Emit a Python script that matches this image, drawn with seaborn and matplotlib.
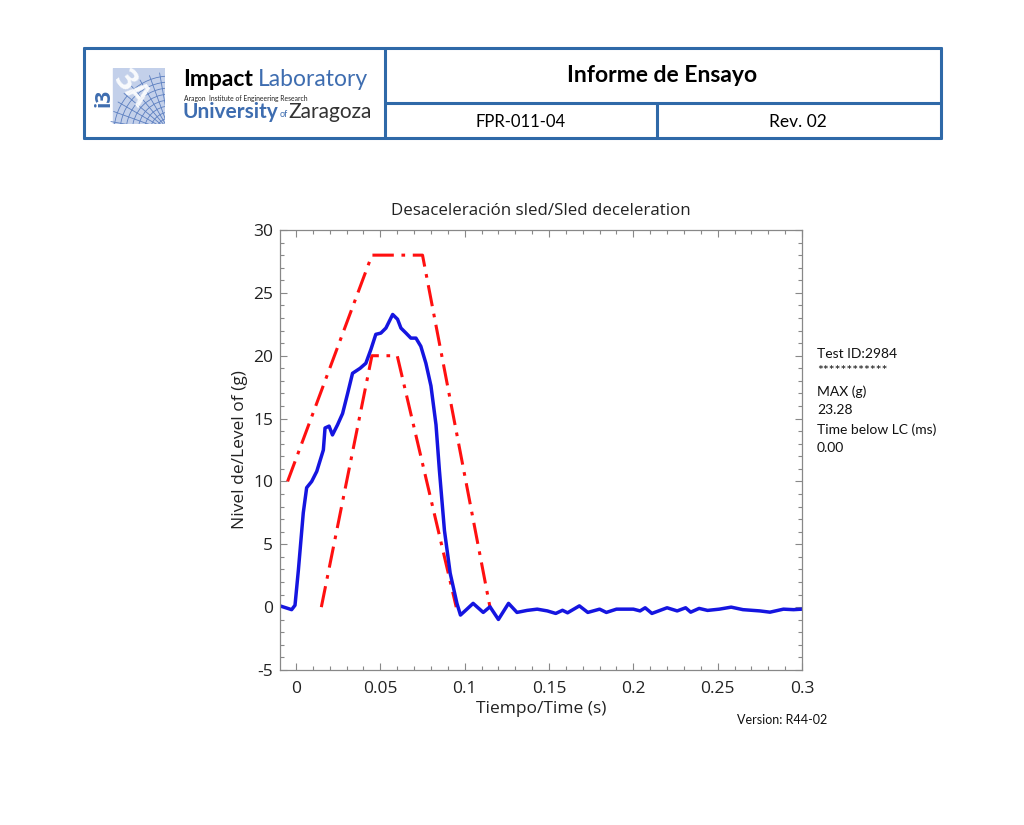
import numpy as np
import pandas as pd
import matplotlib
matplotlib.use("Agg")
import matplotlib.pyplot as plt
from matplotlib.patches import Rectangle, Circle
from matplotlib.lines import Line2D
import seaborn as sns

# ---------------- data ----------------
time_s = [-0.0095, -0.0026, -0.0006, 0.0014, 0.0043, 0.0063, 0.0093, 0.0123, 0.0162,
          0.0172, 0.0196, 0.0216, 0.0246, 0.0276, 0.0306, 0.0335, 0.038, 0.0414,
          0.0444, 0.0473, 0.0503, 0.0533, 0.0573, 0.0602, 0.0622, 0.0652, 0.0681,
          0.0711, 0.074, 0.077, 0.080, 0.083, 0.085, 0.088, 0.0914, 0.0954, 0.0975,
          0.101, 0.105, 0.111, 0.115, 0.120, 0.126, 0.131, 0.137, 0.143, 0.149,
          0.154, 0.158, 0.161, 0.168, 0.173, 0.180, 0.184, 0.190, 0.200, 0.204,
          0.207, 0.211, 0.220, 0.226, 0.231, 0.234, 0.239, 0.244, 0.251, 0.258,
          0.265, 0.275, 0.281, 0.289, 0.295, 0.300]
decel_g = [0.1, -0.2, 0.15, 2.95, 7.5, 9.5, 10.0, 10.8, 12.5,
           14.25, 14.4, 13.7, 14.5, 15.4, 17.0, 18.6, 19.0, 19.4,
           20.5, 21.7, 21.8, 22.2, 23.28, 22.9, 22.2, 21.8, 21.4,
           21.4, 20.75, 19.4, 17.6, 14.5, 10.9, 6.1, 2.7, 0.3, -0.63,
           -0.2, 0.3, -0.42, 0.03, -0.98, 0.3, -0.42, -0.26, -0.16, -0.3,
           -0.5, -0.25, -0.45, 0.1, -0.42, -0.16, -0.42, -0.16, -0.16, -0.3,
           -0.05, -0.5, -0.05, -0.3, -0.05, -0.4, -0.1, -0.26, -0.16, 0.0,
           -0.2, -0.3, -0.4, -0.16, -0.2, -0.16]

upper_t = [-0.005, 0.045, 0.075, 0.115]
upper_g = [10, 28, 28, 0]
lower_t = [0.015, 0.045, 0.060, 0.095]
lower_g = [0, 20, 20, 0]

x_ticks = [0, 0.05, 0.1, 0.15, 0.2, 0.25, 0.3]
x_tick_labels = ["0", "0.05", "0.1", "0.15", "0.2", "0.25", "0.3"]
y_ticks = [-5, 0, 5, 10, 15, 20, 25, 30]

info_lines = ["Test ID:2984", "************", "MAX (g)", "23.28",
              "Time below LC (ms)", "0.00"]

# ---------------- figure ----------------
sns.set_theme(style="ticks")
plt.rcParams['font.family'] = ['Open Sans', 'DejaVu Sans']
plt.rcParams['axes.unicode_minus'] = False

W, H = 1024, 825
fig = plt.figure(figsize=(W / 100, H / 100), dpi=100)
fig.patch.set_facecolor("white")
renderer = fig.canvas.get_renderer()

def fx(px):
    return px / W

def fy(py):
    return 1 - py / H

def right_px(t):
    bb = t.get_window_extent(renderer=renderer)
    return bb.x1

# ---------- header table ----------
hdr_col = "#2F69A8"
lw_h = 2.2
def hline(x0, x1, y):
    fig.add_artist(Line2D([fx(x0), fx(x1)], [fy(y), fy(y)], color=hdr_col, lw=lw_h,
                          transform=fig.transFigure))
def vline(x, y0, y1):
    fig.add_artist(Line2D([fx(x), fx(x)], [fy(y0), fy(y1)], color=hdr_col, lw=lw_h,
                          transform=fig.transFigure))

hline(84, 941, 48)
hline(84, 941, 138)
vline(84, 48, 138)
vline(941, 48, 138)
vline(385, 48, 138)
hline(385, 941, 103)
vline(657, 103, 138)

lf = ["Lato", "DejaVu Sans"]
fig.text(fx(662), fy(76), "Informe de Ensayo", ha="center", va="center",
         fontsize=16.5, fontweight="bold", color="black", family=lf)
fig.text(fx(521), fy(122), "FPR-011-04", ha="center", va="center",
         fontsize=12, color="black", family=lf)
fig.text(fx(798), fy(122), "Rev. 02", ha="center", va="center",
         fontsize=12.5, color="black", family=lf)

# ---------- logo ----------
lax = fig.add_axes([fx(95), fy(124), fx(165) - fx(95), fy(68) - fy(124)])
lax.set_xlim(0, 70)
lax.set_ylim(0, 56)
lax.axis("off")
lax.add_patch(Rectangle((18, 0), 52, 56, color="#C3D0EA", zorder=1))
for r in range(8, 60, 6):
    lax.add_patch(Circle((75, -8), r, fill=False, ec="#5C7FC0", lw=0.6, zorder=2))
for ang in np.linspace(100, 180, 9):
    a = np.deg2rad(ang)
    lax.plot([75, 75 + 60 * np.cos(a)], [-8, -8 + 60 * np.sin(a)], color="#5C7FC0",
             lw=0.6, zorder=2)
lax.text(9, 26, "i3", rotation=90, ha="center", va="center", fontsize=15,
         fontweight="bold", color="#3E6DB0", zorder=3)
lax.text(36, 34, "3A", rotation=-50, ha="center", va="center", fontsize=22,
         fontweight="bold", color="white", zorder=3, alpha=0.9)

t1 = fig.text(fx(183), fy(80), "Impact", ha="left", va="center", fontsize=16.5,
              fontweight="bold", color="black", family=lf)
x_end = right_px(t1)
fig.text((x_end + 5) / W, fy(80), "Laboratory", ha="left", va="center", fontsize=16.5,
         color="#3E6DB0", family=lf)
fig.text(fx(184), fy(98.5), "Aragon  Institute of Engineering Research", ha="left",
         va="center", fontsize=4.9, color="#222222", family=lf)
t2 = fig.text(fx(183), fy(112), "University", ha="left", va="center", fontsize=15,
              fontweight="bold", color="#3E6DB0", family=lf)
x_end = right_px(t2)
t3 = fig.text((x_end + 0.5) / W, fy(114.5), "of", ha="left", va="center", fontsize=6.5,
              color="#3E6DB0", family=lf)
x_end = right_px(t3)
fig.text((x_end + 0.5) / W, fy(112), "Zaragoza", ha="left", va="center", fontsize=15,
         color="#333333", family=lf)

# ---------- chart ----------
ax = fig.add_axes([fx(280), fy(670), fx(802) - fx(280), fy(230) - fy(670)])

df_meas = pd.DataFrame({"t": time_s, "g": decel_g})
df_up = pd.DataFrame({"t": upper_t, "g": upper_g})
df_lo = pd.DataFrame({"t": lower_t, "g": lower_g})

sns.lineplot(data=df_up, x="t", y="g", ax=ax, sort=False, estimator=None,
             color="#FF1010", lw=2.2)
sns.lineplot(data=df_lo, x="t", y="g", ax=ax, sort=False, estimator=None,
             color="#FF1010", lw=2.2)
for ln in ax.lines:
    ln.set_dashes([7, 2.5, 1.2, 2.5])
sns.lineplot(data=df_meas, x="t", y="g", ax=ax, sort=False, estimator=None,
             color="#1515E0", lw=2.5)
ax.lines[-1].set_solid_joinstyle("round")

ax.set_xlim(-0.0095, 0.3)
ax.set_ylim(-5, 30)
ax.set_xticks(x_ticks)
ax.set_xticklabels(x_tick_labels)
ax.set_yticks(y_ticks)
ax.xaxis.set_minor_locator(matplotlib.ticker.MultipleLocator(0.01))
ax.yaxis.set_minor_locator(matplotlib.ticker.MultipleLocator(1))
ax.tick_params(which="both", direction="in", top=True, right=True, colors="#888888",
               labelcolor="#222222", labelsize=12.5)
ax.tick_params(axis="x", pad=8)
ax.tick_params(axis="y", pad=5)
ax.tick_params(which="major", length=5, width=0.8)
ax.tick_params(which="minor", length=3, width=0.8)
for sp in ax.spines.values():
    sp.set_color("#888888")
    sp.set_linewidth(0.9)
ax.set_xlabel("Tiempo/Time (s)", fontsize=12.5, color="#222222", labelpad=3)
ax.set_ylabel("Nivel de/Level of (g)", fontsize=12.5, color="#222222", labelpad=4)
ax.set_title("Desaceleración sled/Sled deceleration", fontsize=12.2, color="#222222",
             pad=11)
ax.grid(False)

# info text on the right
info_y = [354, 371, 392, 410, 430, 448]
for txt, yy in zip(info_lines, info_y):
    fig.text(fx(817), fy(yy), txt, ha="left", va="center", fontsize=10,
             color="#111111", family=lf)

fig.text(fx(737), fy(720), "Version: R44-02", ha="left", va="center", fontsize=9,
         color="#111111", family=lf)

fig.savefig("out.png", dpi=100, facecolor="white")
